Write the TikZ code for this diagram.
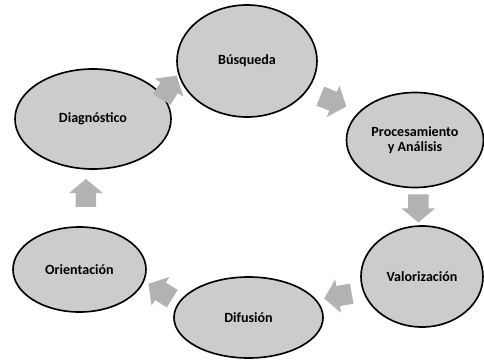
\documentclass[tikz,border=0pt]{standalone}
\usepackage{fontspec}
\setmainfont{Carlito}
\usetikzlibrary{shapes,shapes.arrows,calc}

\definecolor{elpgray}{gray}{0.8}
\definecolor{arrgray}{gray}{0.7}

\tikzset{
	etapa/.style={ellipse, draw=black, line width=1.4pt, fill=elpgray, inner sep=0pt, align=center, font=\fontsize{12}{12.5}\selectfont\bfseries},
	flecha/.style={single arrow, fill=arrgray, draw=none, inner xsep=0pt, inner ysep=3mm, minimum height=8.4mm, single arrow head extend=2mm, single arrow tip angle=100}
}

\begin{document}
\begin{tikzpicture}[x=0.3mm, y=-0.3mm]
	\useasboundingbox (0,0) rectangle (484,360);
	\node[etapa, minimum width=42mm, minimum height=33.6mm] (busq) at (247,61) {Búsqueda};
	\node[etapa, minimum width=41.1mm, minimum height=28.5mm] (proc) at (415,140) {Procesamiento\\y Análisis};
	\node[etapa, minimum width=36.6mm, minimum height=30.3mm] (valor) at (422,276.5) {Valorización};
	\node[etapa, minimum width=44.7mm, minimum height=24.3mm] (difus) at (248.5,317.5) {Difusión};
	\node[etapa, minimum width=39.9mm, minimum height=25.5mm] (orient) at (79.5,269.5) {Orientación};
	\node[etapa, minimum width=46.8mm, minimum height=30mm] (diag) at (93,119) {Diagnóstico};
	\node[flecha, rotate=58] (f1) at ($(diag)!0.48!(busq)$) {};
	\node[flecha, rotate=-22] (f2) at ($(busq)!0.49!(proc)$) {};
	\node[flecha, rotate=-90] (f3) at ($(proc)!0.47!(valor)$) {};
	\node[flecha, rotate=190] (f4) at ($(valor)!0.46!(difus)$) {};
	\node[flecha, rotate=148] (f5) at ($(difus)!0.5!(orient)$) {};
	\node[flecha, rotate=90] (f6) at ($(orient)!0.48!(diag)$) {};
\end{tikzpicture}
\end{document}
